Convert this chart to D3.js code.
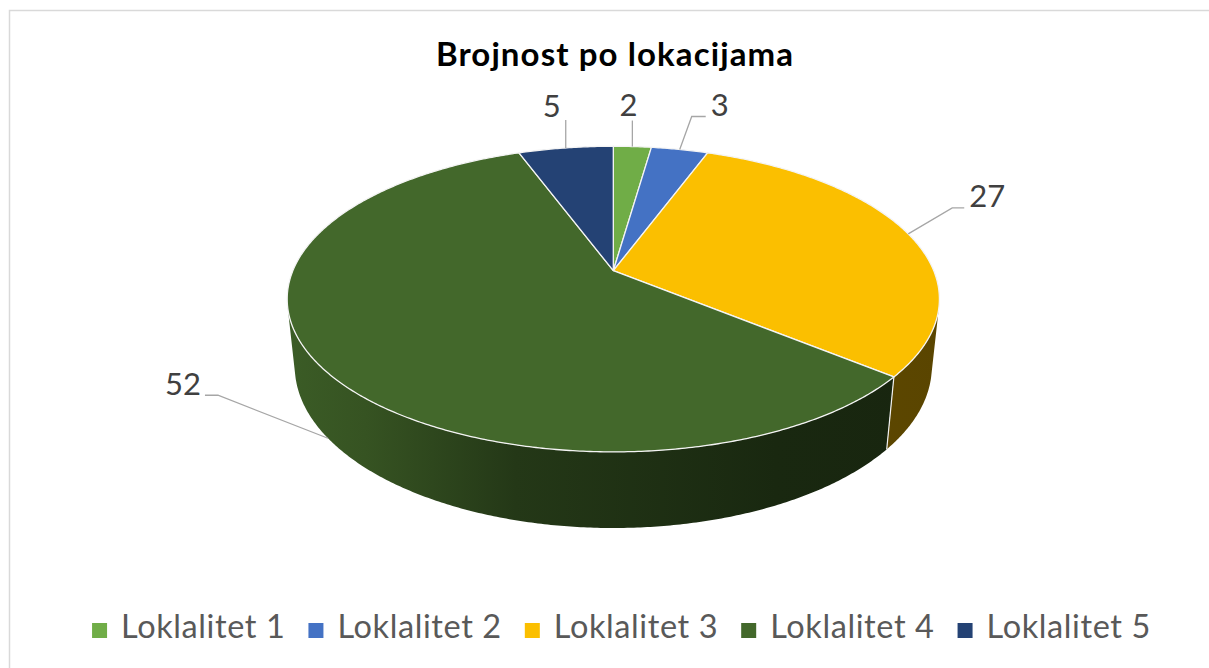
<!DOCTYPE html>
<html><head><meta charset="utf-8">
<script src="https://cdn.jsdelivr.net/npm/d3@7"></script>
<style>html,body{margin:0;padding:0;background:#fff;overflow:hidden}</style>
</head><body><svg id="c" width="1209" height="668"></svg>
<script>
// ---- data ----
const title = "Brojnost po lokacijama";
const categories = ["Loklalitet 1", "Loklalitet 2", "Loklalitet 3", "Loklalitet 4", "Loklalitet 5"];
const values = [2, 3, 27, 52, 5];
const colors = ["#70AD47", "#4472C4", "#FBBF00", "#43682B", "#244274"];

// ---- layout / style ----
const W = 1209, H = 668;
const svg = d3.select("#c");
const FONT = "Lato, 'Open Sans', sans-serif";

// perspective projection of a 3D disc
const cx = 613.3, cy = 270.7;
const alpha = Math.asin(0.4604), sA = Math.sin(alpha), cA = Math.cos(alpha);
const D = 4.781, f = 1532, h = 0.2388;
function proj(t, r, y) {
  const x3 = r * Math.sin(t), z3 = -r * Math.cos(t);
  const v = z3 * sA - y * cA;
  const w = D - z3 * cA - y * sA;
  return [cx + f * x3 / w, cy + f * v / w];
}
const thR = Math.acos(-1 / (D * cA));          // right silhouette
const thL = 2 * Math.PI - thR;                   // left silhouette

// border
svg.append("rect").attr("x", 9.5).attr("y", 10.5).attr("width", W + 10).attr("height", H + 10)
  .attr("fill", "#fff").attr("stroke", "#d9d9d9").attr("stroke-width", 1.5);

const pie = d3.pie().sort(null).value(d => d).startAngle(0).endAngle(2 * Math.PI);
const arcs = pie(values);
const step = Math.PI / 360;

// wall gradients (lit from left)
const xLeft = proj(thL, 1, 0)[0], xRight = proj(thR, 1, 0)[0];
const shade = [[0, 0.88], [0.12, 0.8], [0.35, 0.54], [0.75, 0.38], [1, 0.36]];
const defs = svg.append("defs");
colors.forEach((c, i) => {
  const g = defs.append("linearGradient").attr("id", "wall" + i).attr("gradientUnits", "userSpaceOnUse")
    .attr("x1", xLeft).attr("x2", xRight).attr("y1", 0).attr("y2", 0);
  const col = d3.color(c);
  shade.forEach(([o, b]) => g.append("stop").attr("offset", o)
    .attr("stop-color", d3.rgb(col.r * b, col.g * b, col.b * b).formatHex()));
});

const gWall = svg.append("g");
arcs.forEach((a, i) => {
  const s = Math.max(a.startAngle, thR), e = Math.min(a.endAngle, thL);
  if (e <= s) return;
  const n = Math.max(2, Math.ceil((e - s) / step));
  const top = [], bot = [];
  for (let k = 0; k <= n; k++) {
    const t = s + (e - s) * k / n;
    top.push(proj(t, 1, 0)); bot.push(proj(t, 1, -h));
  }
  const pts = top.concat(bot.reverse());
  gWall.append("path").attr("d", "M" + pts.join("L") + "Z").attr("fill", `url(#wall${i})`);
});
// white seams on wall at slice boundaries
arcs.forEach(a => {
  const t = a.startAngle;
  if (t > thR && t < thL) {
    const p1 = proj(t, 1, 0), p2 = proj(t, 1, -h);
    gWall.append("line").attr("x1", p1[0]).attr("y1", p1[1]).attr("x2", p2[0]).attr("y2", p2[1])
      .attr("stroke", "#f2f2f2").attr("stroke-width", 1.2);
  }
});

// top faces
const gTop = svg.append("g");
arcs.forEach((a, i) => {
  const pts = [[cx, cy]];
  const n = Math.max(2, Math.ceil((a.endAngle - a.startAngle) / step));
  for (let k = 0; k <= n; k++) pts.push(proj(a.startAngle + (a.endAngle - a.startAngle) * k / n, 1, 0));
  gTop.append("path").attr("d", "M" + pts.join("L") + "Z").attr("fill", colors[i])
    .attr("stroke", "#f4f4f4").attr("stroke-width", 1.3).attr("stroke-linejoin", "round");
});

// data labels with leader lines
const labelStyle = [
  { e: [0, -26], m: [0, -26], t: [-4, -31], anchor: "middle" },
  { e: [12, -33], m: [26, -33], t: [31, -33], anchor: "start" },
  { e: [44, -26], m: [56, -26], t: [61, -27], anchor: "start" },
  { e: [-110, -43], m: [-123, -43], t: [-127, -43], anchor: "end" },
  { e: [0, -28], m: [0, -28], t: [-14, -31], anchor: "middle" }
];
const gLab = svg.append("g");
arcs.forEach((a, i) => {
  const mid = (a.startAngle + a.endAngle) / 2;
  const onWall = mid > thR && mid < thL;
  const p = proj(mid, 1, onWall ? -h : 0);
  const st = labelStyle[i];
  gLab.append("polyline")
    .attr("points", [p, [p[0] + st.e[0], p[1] + st.e[1]], [p[0] + st.m[0], p[1] + st.m[1]]].join(" "))
    .attr("fill", "none").attr("stroke", "#a6a6a6").attr("stroke-width", 1.3);
  gLab.append("text").attr("x", p[0] + st.t[0]).attr("y", p[1] + st.t[1])
    .attr("text-anchor", st.anchor).attr("font-family", FONT).attr("font-size", 31)
    .attr("fill", "#404040").text(String(values[i]));
});

// title
svg.append("text").attr("x", 615).attr("y", 66).attr("text-anchor", "middle")
  .attr("font-family", FONT).attr("font-weight", "bold").attr("font-size", 33)
  .attr("letter-spacing", 1.1).attr("fill", "#000").text(title);

// legend
const gLeg = svg.append("g");
let x = 0;
const gap = 23;
categories.forEach((c, i) => {
  const g = gLeg.append("g").attr("transform", `translate(${x},0)`);
  g.append("rect").attr("x", 0).attr("y", -15).attr("width", 15).attr("height", 15).attr("fill", colors[i]);
  const t = g.append("text").attr("x", 29).attr("y", 0).attr("font-family", FONT).attr("font-size", 32.5)
    .attr("letter-spacing", 0.6).attr("fill", "#595959").text(c);
  const w = t.node().getComputedTextLength();
  x += 29 + w + gap;
});
const totalW = x - gap;
gLeg.attr("transform", `translate(${621.5 - totalW / 2},638)`);
</script></body></html>
